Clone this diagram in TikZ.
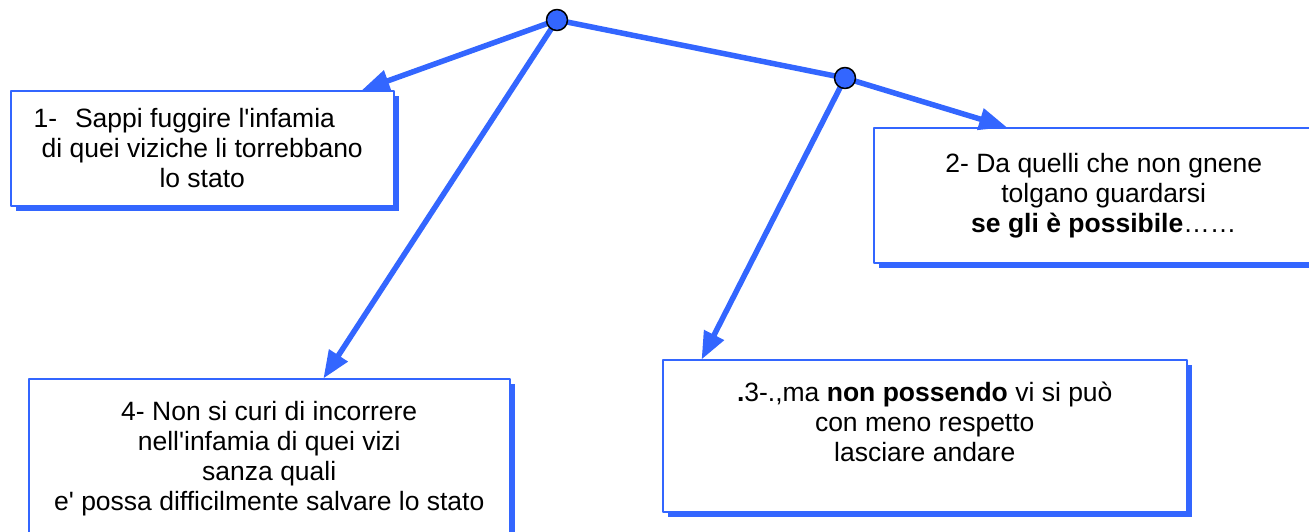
\documentclass[tikz,border=0pt]{standalone}
\usepackage{fontspec}
\setmainfont{Liberation Sans}
\usepackage{pgf,tikz}
\usetikzlibrary{arrows}
\usetikzlibrary{positioning}
\usetikzlibrary{shadows}
\definecolor{boxblue}{RGB}{51,102,255}
\begin{document}
\begin{tikzpicture}[line cap=round,line join=round,>=triangle 45,x=1pt,y=-1pt,
box/.style={rectangle,draw=boxblue,line width=1.5pt,fill=white,anchor=north west,align=center,inner sep=0pt,font=\fontsize{26.5}{30}\selectfont,drop shadow={shadow xshift=5pt,shadow yshift=-5pt,fill=boxblue,opacity=1}},
knot/.style={circle,draw=black,line width=1.5pt,fill=boxblue,minimum size=21pt,inner sep=0pt},
link/.style={color=boxblue,line width=5.5pt}]
\useasboundingbox (0,0) rectangle (1309,531);
\coordinate (apex) at (557,20);
\coordinate (fork) at (845,78);
\node[box,minimum width=383pt,minimum height=115pt] (sappi) at (10,90) {1-\hspace{18pt}Sappi fuggire l\textquotesingle infamia\hspace*{36pt}\\ di quei viziche li torrebbano\\ lo stato};
\node[box,minimum width=460pt,minimum height=135pt] (guardarsi) at (873,127) {2- Da quelli che non gnene\\ tolgano guardarsi\\ \textbf{se gli è possibile}\ldots\ldots};
\node[box,minimum width=524pt,minimum height=152pt] (lasciare) at (662,359) {\textbf{.}3-.,ma \textbf{non possendo} vi si può\\ con meno respetto\\ lasciare andare\\[-10pt] \strut};
\node[box,minimum width=481pt,minimum height=160pt] (incorrere) at (28,378) {4- Non si curi di incorrere\\ nell\textquotesingle infamia di quei vizi\\ sanza quali\\ e\textquotesingle{} possa difficilmente salvare lo stato};
\draw[link,->] (apex) -- (sappi.20.5);
\draw[link,->] (apex) -- (incorrere.56);
\draw[link] (apex) -- (fork);
\draw[link,->] (fork) -- (guardarsi.145.4);
\draw[link,->] (fork) -- (lasciare.161.2);
\node[knot] (apexdot) at (apex) {};
\node[knot] (forkdot) at (fork) {};
\end{tikzpicture}
\end{document}
